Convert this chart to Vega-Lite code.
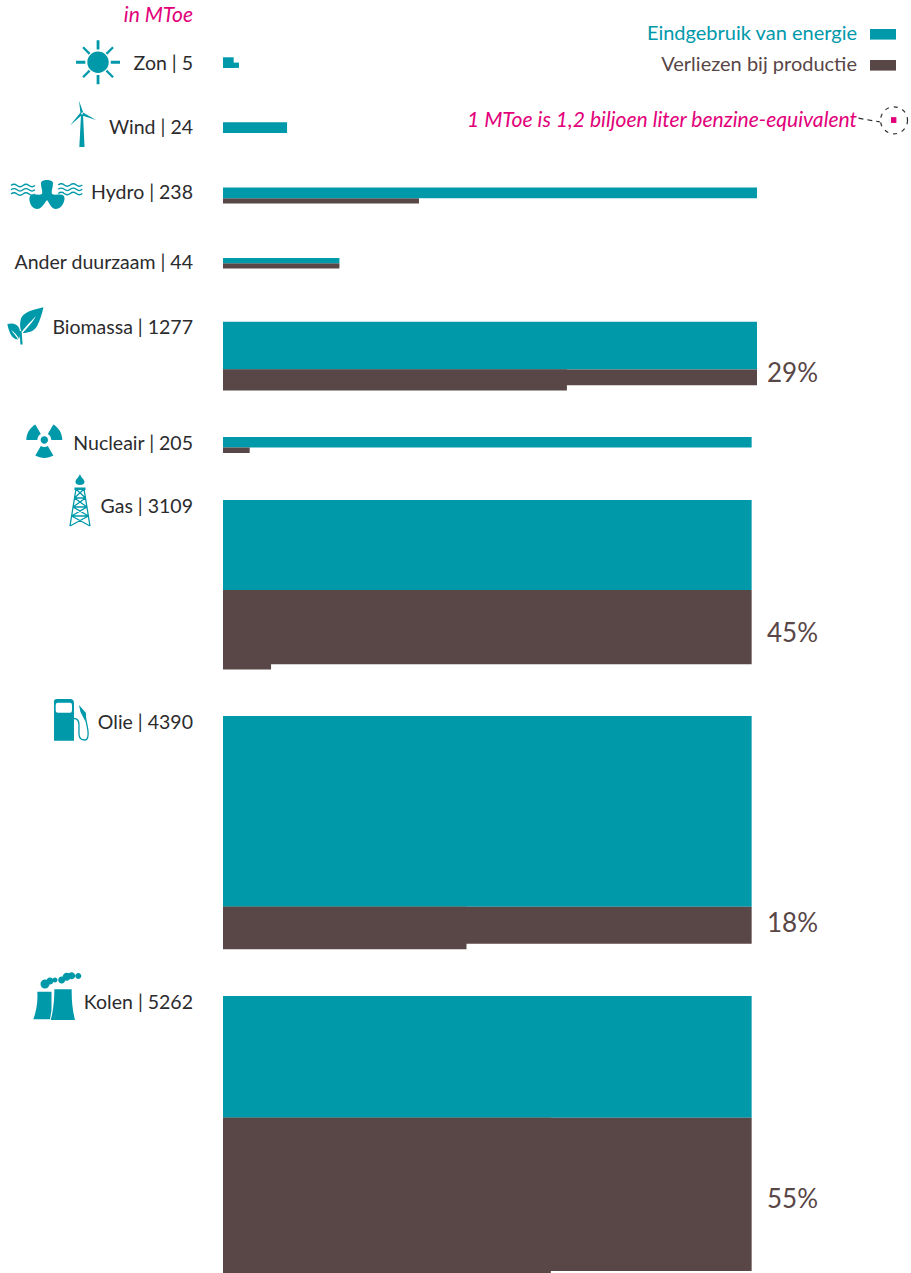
{
  "$schema": "https://vega.github.io/schema/vega-lite/v6.json",
  "width": 911,
  "height": 1273,
  "padding": 0,
  "autosize": {"type": "none"},
  "background": "white",
  "config": {"view": {"stroke": null}, "text": {"font": "Lato"}},
  "datasets": {
    "blokken": [
      {"bron": "Zon", "soort": "Eindgebruik van energie", "van": 0, "mtoe_per_rij": 2, "rij_van": 10.81, "rij_tot": 12.81},
      {"bron": "Zon", "soort": "Eindgebruik van energie", "van": 0, "mtoe_per_rij": 3, "rij_van": 11.81, "rij_tot": 12.81},
      {"bron": "Wind", "soort": "Eindgebruik van energie", "van": 0, "mtoe_per_rij": 12, "rij_van": 23.08, "rij_tot": 25.08},
      {"bron": "Hydro", "soort": "Verliezen bij productie", "van": 0, "mtoe_per_rij": 36.7, "rij_van": 37.4, "rij_tot": 38.4},
      {"bron": "Hydro", "soort": "Eindgebruik van energie", "van": 0, "mtoe_per_rij": 100, "rij_van": 35.4, "rij_tot": 37.4},
      {"bron": "Ander duurzaam", "soort": "Verliezen bij productie", "van": 0, "mtoe_per_rij": 21.8, "rij_van": 49.68, "rij_tot": 50.68},
      {"bron": "Ander duurzaam", "soort": "Eindgebruik van energie", "van": 0, "mtoe_per_rij": 21.8, "rij_van": 48.68, "rij_tot": 49.68},
      {"bron": "Biomassa", "soort": "Eindgebruik van energie", "van": 0, "mtoe_per_rij": 100, "rij_van": 60.7, "rij_tot": 69.7},
      {"bron": "Biomassa", "soort": "Verliezen bij productie", "van": 0, "mtoe_per_rij": 100, "rij_van": 69.7, "rij_tot": 72.7},
      {"bron": "Biomassa", "soort": "Verliezen bij productie", "van": 0, "mtoe_per_rij": 64.4, "rij_van": 69.7, "rij_tot": 73.7},
      {"bron": "Nucleair", "soort": "Eindgebruik van energie", "van": 0, "mtoe_per_rij": 99, "rij_van": 82.45, "rij_tot": 84.45},
      {"bron": "Nucleair", "soort": "Verliezen bij productie", "van": 0, "mtoe_per_rij": 5, "rij_van": 84.45, "rij_tot": 85.45},
      {"bron": "Gas", "soort": "Eindgebruik van energie", "van": 0, "mtoe_per_rij": 99, "rij_van": 94.34, "rij_tot": 111.34},
      {"bron": "Gas", "soort": "Verliezen bij productie", "van": 0, "mtoe_per_rij": 99, "rij_van": 111.34, "rij_tot": 125.34},
      {"bron": "Gas", "soort": "Verliezen bij productie", "van": 0, "mtoe_per_rij": 9, "rij_van": 111.34, "rij_tot": 126.34},
      {"bron": "Olie", "soort": "Eindgebruik van energie", "van": 0, "mtoe_per_rij": 99, "rij_van": 135.09, "rij_tot": 171.09},
      {"bron": "Olie", "soort": "Verliezen bij productie", "van": 0, "mtoe_per_rij": 99, "rij_van": 171.09, "rij_tot": 178.09},
      {"bron": "Olie", "soort": "Verliezen bij productie", "van": 0, "mtoe_per_rij": 45.6, "rij_van": 171.09, "rij_tot": 179.09},
      {"bron": "Kolen", "soort": "Eindgebruik van energie", "van": 0, "mtoe_per_rij": 99, "rij_van": 187.92, "rij_tot": 210.92},
      {"bron": "Kolen", "soort": "Verliezen bij productie", "van": 0, "mtoe_per_rij": 99, "rij_van": 210.92, "rij_tot": 239.8},
      {"bron": "Kolen", "soort": "Verliezen bij productie", "van": 0, "mtoe_per_rij": 61.4, "rij_van": 210.92, "rij_tot": 240.19},
      {"bron": "Legenda", "soort": "Eindgebruik van energie", "van": 121.16, "mtoe_per_rij": 126.03, "rij_van": 5.47, "rij_tot": 7.47},
      {"bron": "Legenda", "soort": "Verliezen bij productie", "van": 121.16, "mtoe_per_rij": 126.03, "rij_van": 11.32, "rij_tot": 13.32}
    ],
    "bronnen": [
      {"bron": "Zon", "label": "Zon | 5", "rij": 12.1},
      {"bron": "Wind", "label": "Wind | 24", "rij": 24.2},
      {"bron": "Hydro", "label": "Hydro | 238", "rij": 36.5},
      {"bron": "Ander duurzaam", "label": "Ander duurzaam | 44", "rij": 49.7},
      {"bron": "Biomassa", "label": "Biomassa | 1277", "rij": 61.9},
      {"bron": "Nucleair", "label": "Nucleair | 205", "rij": 83.8},
      {"bron": "Gas", "label": "Gas | 3109", "rij": 95.7},
      {"bron": "Olie", "label": "Olie | 4390", "rij": 136.4},
      {"bron": "Kolen", "label": "Kolen | 5262", "rij": 189.2}
    ],
    "verliezen": [
      {"bron": "Biomassa", "verlies": "29%", "rij": 70.55},
      {"bron": "Gas", "verlies": "45%", "rij": 119.55},
      {"bron": "Olie", "verlies": "18%", "rij": 174.35},
      {"bron": "Kolen", "verlies": "55%", "rij": 226.5}
    ],
    "iconen": [
      {"bron": "Zon", "x": -23.4, "rij": 11.75},
      {"bron": "Wind", "x": -26.4, "rij": 23.58},
      {"bron": "Hydro", "x": -32.96, "rij": 36.8},
      {"bron": "Biomassa", "x": -37.06, "rij": 61.32},
      {"bron": "Nucleair", "x": -33.46, "rij": 83.02},
      {"bron": "Gas", "x": -26.78, "rij": 94.34},
      {"bron": "Olie", "x": -29.78, "rij": 135.85},
      {"bron": "Kolen", "x": -31.46, "rij": 188.68}
    ],
    "legenda": [
      {"soort": "Eindgebruik van energie", "rij": 6.35},
      {"soort": "Verliezen bij productie", "rij": 12.35}
    ]
  },
  "layer": [
    {
      "data": {"name": "blokken"},
      "mark": {"type": "rect"},
      "encoding": {
        "x": {"field": "van", "type": "quantitative", "axis": null, "scale": {"domain": [-41.76, 128.84], "nice": false, "zero": false}},
        "x2": {"field": "mtoe_per_rij"},
        "y": {"field": "rij_van", "type": "quantitative", "axis": null, "scale": {"domain": [0, 240.19], "reverse": true, "nice": false, "zero": false}},
        "y2": {"field": "rij_tot"},
        "color": {"field": "soort", "type": "nominal", "legend": null, "scale": {"domain": ["Eindgebruik van energie", "Verliezen bij productie"], "range": ["#0099AA", "#594646"]}}
      }
    },
    {
      "data": {"name": "bronnen"},
      "mark": {"type": "text", "align": "right", "baseline": "middle", "dx": -30, "fontSize": 19.5, "color": "#2B2B2D"},
      "encoding": {
        "x": {"datum": 0, "type": "quantitative"},
        "y": {"field": "rij", "type": "quantitative"},
        "text": {"field": "label"}
      }
    },
    {
      "data": {"values": [{"tekst": "in MToe", "rij": 2.95}]},
      "mark": {"type": "text", "align": "right", "baseline": "middle", "dx": -30, "fontSize": 21, "fontStyle": "italic", "color": "#E2007A"},
      "encoding": {
        "x": {"datum": 0, "type": "quantitative"},
        "y": {"field": "rij", "type": "quantitative"},
        "text": {"field": "tekst"}
      }
    },
    {
      "data": {"name": "verliezen"},
      "mark": {"type": "text", "align": "left", "baseline": "middle", "dx": 10, "fontSize": 26, "color": "#594646"},
      "encoding": {
        "x": {"datum": 100, "type": "quantitative"},
        "y": {"field": "rij", "type": "quantitative"},
        "text": {"field": "verlies"}
      }
    },
    {
      "data": {"name": "legenda"},
      "mark": {"type": "text", "align": "right", "baseline": "middle", "fontSize": 20},
      "encoding": {
        "x": {"datum": 118.73, "type": "quantitative"},
        "y": {"field": "rij", "type": "quantitative"},
        "text": {"field": "soort"},
        "color": {"field": "soort", "type": "nominal", "legend": null}
      }
    },
    {
      "data": {"values": [{"tekst": "1 MToe is 1,2 biljoen liter benzine-equivalent", "rij": 22.8}]},
      "mark": {"type": "text", "align": "right", "baseline": "middle", "fontSize": 21.1, "fontStyle": "italic", "color": "#E2007A"},
      "encoding": {
        "x": {"datum": 118.73, "type": "quantitative"},
        "y": {"field": "rij", "type": "quantitative"},
        "text": {"field": "tekst"}
      }
    },
    {
      "data": {"values": [{"van": 125.1, "tot": 126.1, "rij_van": 22.1, "rij_tot": 23.2}]},
      "mark": {"type": "rect", "color": "#E2007A"},
      "encoding": {
        "x": {"field": "van", "type": "quantitative"},
        "x2": {"field": "tot"},
        "y": {"field": "rij_van", "type": "quantitative"},
        "y2": {"field": "rij_tot"}
      }
    },
    {
      "data": {"values": [{"x": 125.66, "rij": 22.7}]},
      "mark": {"type": "point", "shape": "circle", "size": 730, "filled": false, "stroke": "#2B2B2D", "strokeWidth": 1.2, "strokeDash": [4, 5], "opacity": 1},
      "encoding": {
        "x": {"field": "x", "type": "quantitative"},
        "y": {"field": "rij", "type": "quantitative"}
      }
    },
    {
      "data": {"values": [{"van": 119.0, "tot": 123.0, "rij_van": 22.3, "rij_tot": 23.0}]},
      "mark": {"type": "rule", "stroke": "#2B2B2D", "strokeWidth": 1.2, "strokeDash": [5, 4]},
      "encoding": {
        "x": {"field": "van", "type": "quantitative"},
        "x2": {"field": "tot"},
        "y": {"field": "rij_van", "type": "quantitative"},
        "y2": {"field": "rij_tot"}
      }
    },
    {
      "data": {"name": "iconen"},
      "mark": {"type": "point", "filled": true, "size": 4, "opacity": 1, "stroke": null, "color": "#0099AA"},
      "encoding": {
        "x": {"field": "x", "type": "quantitative"},
        "y": {"field": "rij", "type": "quantitative"},
        "shape": {
          "field": "bron",
          "type": "nominal",
          "legend": null,
          "scale": {
            "domain": ["Zon", "Wind", "Hydro", "Biomassa", "Nucleair", "Gas", "Olie", "Kolen"],
            "range": [
              "M-10.7,0A10.7,10.7 0 1 1 10.7,0A10.7,10.7 0 1 1 -10.7,0ZM-1.4,-22H1.4V-12.7H-1.4ZM-1.4,12.7H1.4V22H-1.4ZM12.7,-1.4H22V1.4H12.7ZM-22,-1.4H-12.7V1.4H-22ZM-15.8,-14.2L-14.2,-15.8L-7.6,-9.2L-9.2,-7.6ZM14.2,-15.8L15.8,-14.2L9.2,-7.6L7.6,-9.2ZM-15.8,14.2L-9.2,7.6L-7.6,9.2L-14.2,15.8ZM9.2,7.6L15.8,14.2L14.2,15.8L7.6,9.2Z",
              "M-1,-10L1,-10L2.5,22L-2.7,22ZM-3,-24.3L1,-13L-1.5,-11.5ZM1,-12.5L14,-5L0,-9.5ZM-1.5,-12.5L0,-10L-12,0.5Z",
              "M-6,-12C-6,-16 6,-16 6,-12C6,-7 4,-4 5,-1C8,1 14,-2 17,1C19,5 15,14 9,14C4,14 2,7 0,5C-2,7 -5,14 -10,14C-16,14 -19,5 -17,1C-14,-2 -8,1 -5,-1C-4,-4 -6,-7 -6,-12Z",
              "M18.3,-17.7C8,-15 -3,-13 -4.5,-5C-5.5,0 -5,4 -3.5,7C2,0 6,-4 11,-9C7,-2 2,3 -2.5,8C4,8 9,6 12,1C15,-5 17,-11 18.3,-17.7ZM-17.7,-1C-12,-2.5 -8,-1 -6,3C-4.5,6 -5,11 -6,14C-8,10 -11,7 -14,5C-12,8 -9,11 -7,14.5C-11,14.5 -14,11 -15.5,7C-16.5,4 -17.5,1 -17.7,-1ZM-5.5,6L-3.5,6L-2.5,19.5L-4.7,19.5Z",
              "M-18,0A18,18 0 0 1 -9,-15.6L-3.5,-6A7,7 0 0 0 -7,0ZM9,-15.6A18,18 0 0 1 18,0L7,0A7,7 0 0 0 3.5,-6ZM9,15.6A18,18 0 0 1 -9,15.6L-3.5,6A7,7 0 0 0 3.5,6ZM-3.7,0A3.7,3.7 0 1 1 3.7,0A3.7,3.7 0 1 1 -3.7,0Z",
              "M0,-26C1,-22 4.5,-21 4.5,-18C4.5,-16 2.5,-15 0,-15C-2.5,-15 -4.5,-16 -4.5,-18C-4.5,-21 -1.5,-22 0,-26ZM-5.5,-12.5H5.5V-10H-5.5Z",
              "M-7,-21H6Q10,-21 10,-17V20.7H-10V-17Q-10.7,-21 -7,-21ZM-6,-17.3Q-8.3,-17.3 -8.3,-15V-9.5Q-8.3,-7.3 -6,-7.3H6Q8,-7.3 8,-9.5V-15Q8,-17.3 6,-17.3ZM15,-15L22,-7L21.5,2C20,-2 18,-5 16.5,-8Z",
              "M-17.7,-8.3H-3.5L-3.5,10L-5,19.3H-21.7C-19,12 -17,3 -17.7,-8.3ZM-0.7,-10.7H16.7C16.5,0 17.5,10 20,20H-4.3C-2,12 -0.5,0 -0.7,-10.7ZM-14.5,-16A4.5,4.5 0 1 0 -5.5,-16A4.5,4.5 0 1 0 -14.5,-16ZM-8.5,-19A3.5,3.5 0 1 0 -1.5,-19A3.5,3.5 0 1 0 -8.5,-19ZM-2.5,-20A2.5,2.5 0 1 0 2.5,-20A2.5,2.5 0 1 0 -2.5,-20ZM3.2,-20A3.5,3.5 0 1 0 10.2,-20A3.5,3.5 0 1 0 3.2,-20ZM7.7,-23.3A4,4 0 1 0 15.7,-23.3A4,4 0 1 0 7.7,-23.3ZM13.2,-24.3A3.5,3.5 0 1 0 20.2,-24.3A3.5,3.5 0 1 0 13.2,-24.3ZM20.3,-24A3,3 0 1 0 26.3,-24A3,3 0 1 0 20.3,-24Z"
            ]
          }
        }
      }
    },
    {
      "data": {"name": "iconen"},
      "transform": [{"filter": "indexof(['Hydro','Gas','Olie'], datum.bron) >= 0"}],
      "mark": {"type": "point", "filled": false, "size": 4, "opacity": 1, "strokeWidth": 1.3, "color": "#0099AA"},
      "encoding": {
        "x": {"field": "x", "type": "quantitative"},
        "y": {"field": "rij", "type": "quantitative"},
        "shape": {
          "field": "bron",
          "type": "nominal",
          "legend": null,
          "scale": {
            "domain": ["Hydro", "Gas", "Olie"],
            "range": [
              "M-36,-9.5Q-33,-12 -30,-9.5T-24,-9.5T-18,-9.5T-12,-9.5M-36,-5.2Q-33,-7.7 -30,-5.2T-24,-5.2T-18,-5.2T-12,-5.2M-36,-1Q-33,-3.5 -30,-1T-24,-1T-18,-1T-12,-1M11.3,-10Q14.3,-12.5 17.3,-10T23.3,-10T29.3,-10T35.3,-10M11.3,-5.7Q14.3,-8.2 17.3,-5.7T23.3,-5.7T29.3,-5.7T35.3,-5.7M11.3,-1.5Q14.3,-4 17.3,-1.5T23.3,-1.5T29.3,-1.5T35.3,-1.5",
              "M-4,-11L-10,26M4,-11L10,26M-5.5,-2H5.5M-6.9,7H6.9M-8.4,16H8.4M-4,-11L5.5,-2M4,-11L-5.5,-2M-5.5,-2L6.9,7M5.5,-2L-6.9,7M-6.9,7L8.4,16M6.9,7L-8.4,16M-8.4,16L10,26M8.4,16L-10,26",
              "M10,-1.5C14,-1.5 15,1 15,5V14C15,19 18,20 21,20C24,20 24.5,15 24,11C23.5,6 22,2 21,-6"
            ]
          }
        }
      }
    }
  ],
  "resolve": {"scale": {"shape": "independent"}}
}
